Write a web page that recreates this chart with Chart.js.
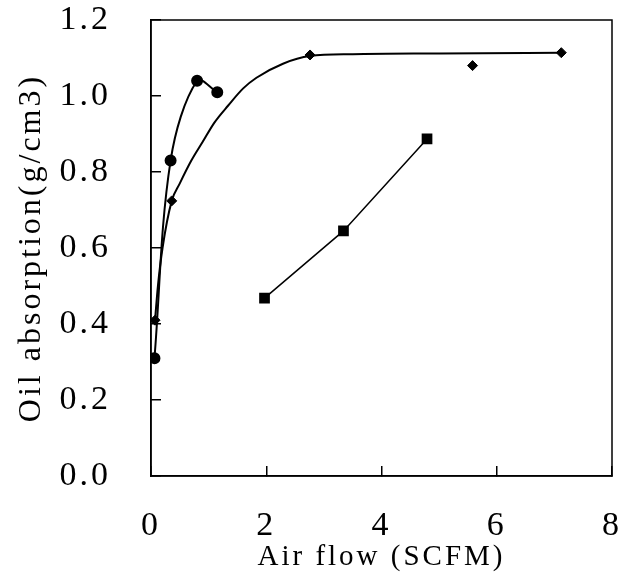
<!DOCTYPE html>
<html>
<head>
<meta charset="utf-8">
<script src="https://cdn.jsdelivr.net/npm/chart.js@4/dist/chart.umd.min.js"></script>
<style>
  html, body { margin: 0; padding: 0; background: #fff; }
  #wrap { width: 629px; height: 578px; }
</style>
</head>
<body>
<div id="wrap"><canvas id="chart" width="629" height="578"></canvas></div>
<script>
// values
const circleX = [0.06, 0.34, 0.80, 1.15];
const circleY = [0.31, 0.83, 1.04, 1.01];

const diamondX = [0.07, 0.36, 2.76, 5.58, 7.12];
const diamondY = [0.41, 0.724, 1.108, 1.08, 1.114];

// fitted curve through the diamonds
const fitX = [0.07, 0.12, 0.20, 0.36, 0.50, 0.70, 0.90, 1.10, 1.34, 1.60, 1.83, 2.29, 2.76, 3.50, 5.00, 7.12];
const fitY = [0.41, 0.50, 0.60, 0.724, 0.77, 0.83, 0.88, 0.93, 0.975, 1.02, 1.048, 1.085, 1.105, 1.110, 1.112, 1.114];

const squareX = [1.97, 3.34, 4.79];
const squareY = [0.468, 0.645, 0.887];

const xTicks = [0, 2, 4, 6, 8];
const yTicks = [0, 0.2, 0.4, 0.6, 0.8, 1.0, 1.2];

const pts = (xs, ys) => xs.map((x, i) => ({ x: x, y: ys[i] }));

// spaced-out serif text, and the closed frame round the plot
const styling = {
  id: 'styling',
  beforeLayout(chart) { chart.ctx.letterSpacing = '3px'; },
  beforeDraw(chart) { chart.ctx.letterSpacing = '3px'; },
  afterDraw(chart) {
    const { ctx, chartArea: a } = chart;
    ctx.save();
    ctx.strokeStyle = '#000';
    ctx.lineWidth = 1.5;
    ctx.strokeRect(a.left, a.top, a.right - a.left, a.bottom - a.top);
    ctx.restore();
  }
};

new Chart(document.getElementById('chart').getContext('2d'), {
  type: 'scatter',
  data: {
    datasets: [
      {
        data: pts(fitX, fitY),
        showLine: true,
        cubicInterpolationMode: 'monotone',
        borderColor: '#000',
        borderWidth: 2,
        pointRadius: 0
      },
      {
        data: pts(diamondX, diamondY),
        pointStyle: 'rectRot',
        pointRadius: 5,
        backgroundColor: '#000',
        borderColor: '#000'
      },
      {
        data: pts(circleX, circleY),
        showLine: true,
        tension: 0.35,
        pointStyle: 'circle',
        pointRadius: 5,
        backgroundColor: '#000',
        borderColor: '#000',
        borderWidth: 2
      },
      {
        data: pts(squareX, squareY),
        showLine: true,
        pointStyle: 'rect',
        pointRadius: 6.5,
        backgroundColor: '#000',
        borderColor: '#000',
        borderWidth: 1.5
      }
    ]
  },
  options: {
    responsive: false,
    animation: false,
    layout: { padding: { left: 0, top: 20, right: 17, bottom: 0 } },
    plugins: { legend: { display: false }, tooltip: { enabled: false } },
    scales: {
      x: {
        type: 'linear',
        min: 0,
        max: 8,
        afterBuildTicks: (s) => { s.ticks = xTicks.map(v => ({ value: v })); },
        afterFit: (s) => { s.height = 102; s.paddingLeft = 0; s.paddingRight = 0; },
        border: { color: '#000', width: 1.5 },
        grid: { drawOnChartArea: false, tickLength: -10, color: '#000', lineWidth: 1.5 },
        ticks: {
          padding: 40,
          color: '#000',
          font: { family: 'Liberation Serif', size: 34 },
          maxRotation: 0
        },
        title: {
          display: true,
          text: 'Air flow (SCFM)',
          color: '#000',
          font: { family: 'Liberation Serif', size: 29 },
          padding: { top: 0, bottom: 3 }
        }
      },
      y: {
        type: 'linear',
        min: 0,
        max: 1.2,
        afterBuildTicks: (s) => { s.ticks = yTicks.map(v => ({ value: v })); },
        afterFit: (s) => { s.width = 151; s.paddingTop = 0; s.paddingBottom = 0; },
        border: { color: '#000', width: 1.5 },
        grid: { drawOnChartArea: false, tickLength: -10, color: '#000', lineWidth: 1.5 },
        ticks: {
          padding: 50,
          color: '#000',
          font: { family: 'Liberation Serif', size: 34 },
          callback: (v) => Number(v).toFixed(1)
        },
        title: {
          display: true,
          text: 'Oil absorption(g/cm3)',
          color: '#000',
          font: { family: 'Liberation Serif', size: 32 },
          padding: { top: 12, bottom: 0 }
        }
      }
    }
  },
  plugins: [styling]
});
</script>
</body>
</html>
